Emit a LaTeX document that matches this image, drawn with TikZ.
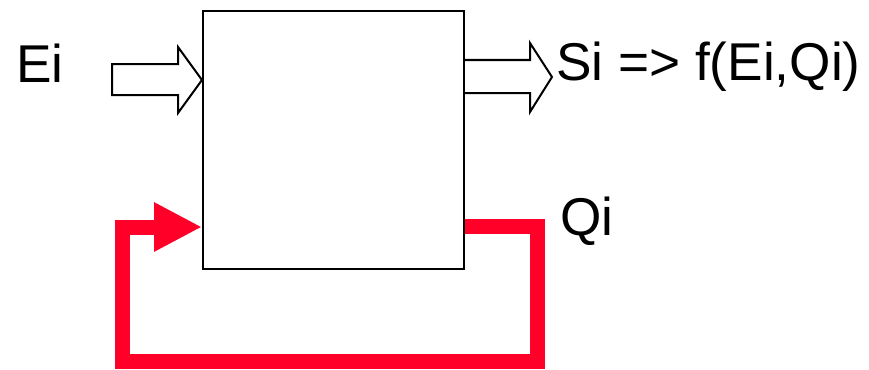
\documentclass[tikz,border=0pt]{standalone}
\usepackage{fontspec}
\setmainfont{Liberation Sans}
\usetikzlibrary{arrows.meta}
\definecolor{retorno}{RGB}{255,0,40}
\begin{document}
\begin{tikzpicture}[
    x=1pt,
    y=-1pt,
    every node/.style={font=\fontsize{53.2}{60}\selectfont, inner sep=0pt},
    bloco/.style={draw=black, line width=2pt, minimum width=261pt, minimum height=258pt},
    setaVazada/.style={draw=black, line width=2pt, fill=white, line join=miter},
    laco/.style={draw=retorno, line width=15pt, line join=miter},
    ponta/.style={-{Triangle[length=48pt, width=46pt]}, color=retorno}
]
\useasboundingbox (0,0) rectangle (869,369);

% Bloco central (circuito sequencial)
\node[bloco] (blk) at (333.5,140) {};

% Entrada Ei e seta vazada de entrada
\node[anchor=base west] (ent) at (16,82) {Ei};
\draw[setaVazada] (112,64) -- (178,64) -- (178,47) -- (blk.west |- 0,80)
    -- (178,113) -- (178,95) -- (112,95) -- cycle;

% Saída Si e seta vazada de saída
\coordinate (sai) at (blk.east |- 0,60);
\draw[setaVazada] (sai) -- (530,60) -- (530,43) -- (552,77)
    -- (530,112) -- (530,93) -- (blk.east |- 0,93);
\node[anchor=base west] (sfun) at (556,80) {Si => f(Ei,Qi)};

% Estado Qi realimentado
\node[anchor=base west] (est) at (560,235) {Qi};
\coordinate (qs) at (blk.east |- 0,226);
\coordinate (c1) at (537,226);
\coordinate (c2) at (537,361);
\coordinate (c3) at (122,361);
\coordinate (c4) at (122,227);
\draw[laco] (qs) -- (c1) -- (c2) -- (c3) -- (c4) -- (156,227);
\draw[laco, ponta] (150,227) -- (blk.west |- 0,227);

\end{tikzpicture}
\end{document}
